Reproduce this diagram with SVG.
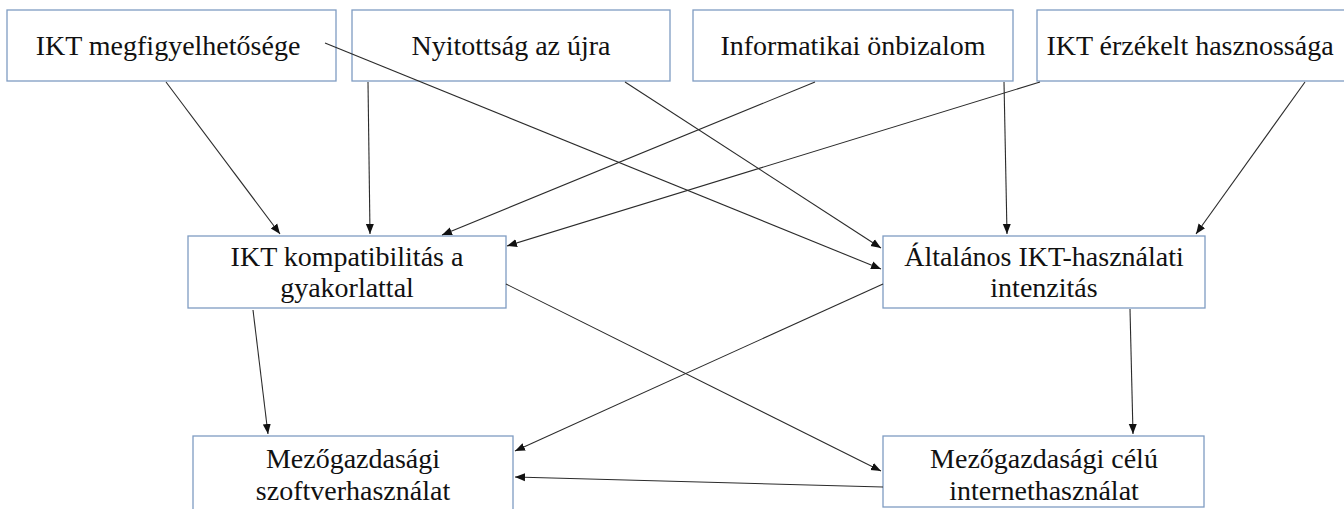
<svg xmlns="http://www.w3.org/2000/svg" width="1344" height="509" viewBox="0 0 1344 509">
<style>
.box{fill:#ffffff;stroke:#7f9cc2;stroke-width:1.3}
.lbl{font-family:"Liberation Serif","Times New Roman",serif;font-size:28px;fill:#111;text-anchor:middle}
.c{stroke:#2b2b2b;stroke-width:1.1;fill:none;marker-end:url(#ah)}
</style>
<defs>
<marker id="ah" viewBox="0 0 10 10" refX="10" refY="5" markerWidth="10" markerHeight="10" markerUnits="userSpaceOnUse" orient="auto">
<path d="M0,1 L10,5 L0,9 Z" fill="#111"/>
</marker>
</defs>
<rect width="1344" height="509" fill="#ffffff"/>
<g id="n1"><rect class="box" x="7" y="10" width="329" height="71"/><text class="lbl" x="168" y="55">IKT megfigyelhetősége</text></g>
<g id="n2"><rect class="box" x="352" y="10" width="318" height="71"/><text class="lbl" x="511" y="55">Nyitottság az újra</text></g>
<g id="n3"><rect class="box" x="693" y="10" width="320" height="71"/><text class="lbl" x="853" y="55">Informatikai önbizalom</text></g>
<g id="n4"><rect class="box" x="1037" y="10" width="320" height="71"/><text class="lbl" x="1190" y="55">IKT érzékelt hasznossága</text></g>
<g id="n5"><rect class="box" x="188" y="236" width="318" height="72"/><text class="lbl" x="347" y="266">IKT kompatibilitás a</text><text class="lbl" x="347" y="297">gyakorlattal</text></g>
<g id="n6"><rect class="box" x="883" y="236" width="322" height="72"/><text class="lbl" x="1044" y="266">Általános IKT-használati</text><text class="lbl" x="1044" y="297">intenzitás</text></g>
<g id="n7"><rect class="box" x="193" y="436" width="320" height="80"/><text class="lbl" x="353" y="468">Mezőgazdasági</text><text class="lbl" x="353" y="500">szoftverhasználat</text></g>
<g id="n8"><rect class="box" x="883" y="436" width="321" height="71"/><text class="lbl" x="1044" y="468">Mezőgazdasági célú</text><text class="lbl" x="1044" y="500">internethasználat</text></g>
<g id="connectors">
<line class="c" x1="166" y1="82" x2="280" y2="234"/>
<line class="c" x1="325" y1="43" x2="881" y2="269"/>
<line class="c" x1="368" y1="82" x2="370" y2="234"/>
<line class="c" x1="625" y1="82" x2="881" y2="248"/>
<line class="c" x1="815" y1="82" x2="442" y2="235"/>
<line class="c" x1="1040" y1="82" x2="507" y2="246"/>
<line class="c" x1="1004" y1="82" x2="1007" y2="234"/>
<line class="c" x1="1305" y1="82" x2="1196" y2="234"/>
<line class="c" x1="253" y1="310" x2="268" y2="434"/>
<line class="c" x1="506" y1="284" x2="881" y2="471"/>
<line class="c" x1="883" y1="284" x2="515" y2="451"/>
<line class="c" x1="883" y1="487" x2="515" y2="477"/>
<line class="c" x1="1130" y1="309" x2="1133" y2="434"/>
</g>
</svg>
